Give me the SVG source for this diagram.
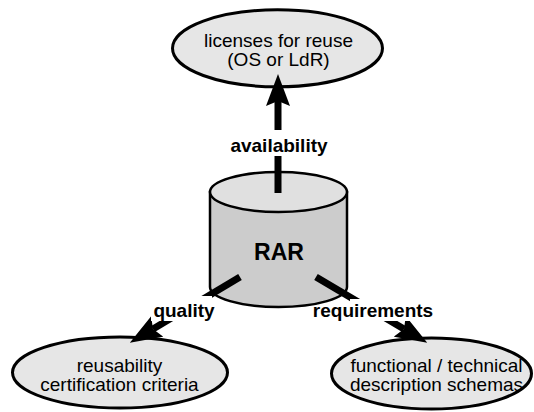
<svg xmlns="http://www.w3.org/2000/svg" width="534" height="412" viewBox="0 0 534 412">
<style>
.node ellipse.oval{fill:#e6e6e6;stroke:#000;stroke-width:3}
.t{font-family:"Liberation Sans",Arial,sans-serif;font-size:19px;fill:#000;text-anchor:middle}
.lbl{font-family:"Liberation Sans",Arial,sans-serif;font-size:19px;font-weight:bold;fill:#000;text-anchor:middle}
.conn line{stroke:#000;stroke-width:7;marker-end:url(#ah)}
.bg{fill:#fff}
</style>
<defs>
<marker id="ah" viewBox="0 0 32 24" markerWidth="32" markerHeight="24" refX="5" refY="12" orient="auto" markerUnits="userSpaceOnUse">
<path d="M0,0 L32,12 L0,24 L5,12 Z" fill="#000"/>
</marker>
</defs>
<rect width="534" height="412" fill="#fff"/>
<g id="licenses" class="node">
<ellipse class="oval" cx="277.5" cy="48.3" rx="105" ry="38.5"/>
<text class="t" x="278.5" y="47">licenses for reuse</text>
<text class="t" x="278.5" y="66">(OS or LdR)</text>
</g>
<g id="certification" class="node">
<ellipse class="oval" cx="120" cy="372.5" rx="107.5" ry="35.5"/>
<text class="t" x="119.5" y="372">reusability</text>
<text class="t" x="119.5" y="391">certification criteria</text>
</g>
<g id="schemas" class="node">
<ellipse class="oval" cx="431.5" cy="373.5" rx="100" ry="35.5"/>
<text class="t" x="436.5" y="372">functional / technical</text>
<text class="t" x="436.5" y="391">description schemas</text>
</g>
<g id="RAR" class="node">
<path d="M210,192 L210,287 A68.5,20 0 0 0 347,287 L347,192 Z" fill="#cccccc" stroke="#000" stroke-width="2.5"/>
<ellipse cx="278.5" cy="192" rx="68.5" ry="20" fill="#e0e0e0" stroke="#000" stroke-width="2.5"/>
<text x="279" y="260" font-family="Liberation Sans, Arial, sans-serif" font-size="23" font-weight="bold" text-anchor="middle">RAR</text>
</g>
<g id="connectors" class="conn">
<line x1="278" y1="193" x2="278" y2="101"/>
<line x1="240" y1="277" x2="153" y2="329"/>
<line x1="316" y1="277" x2="404" y2="329"/>
<rect class="bg" x="227" y="130" width="103" height="26"/>
<text class="lbl" x="279" y="152">availability</text>
<rect class="bg" x="151" y="296" width="61" height="25"/>
<text class="lbl" x="184" y="317">quality</text>
<rect class="bg" x="350" y="299" width="84" height="22"/>
<text class="lbl" x="373" y="317">requirements</text>
</g>
</svg>
